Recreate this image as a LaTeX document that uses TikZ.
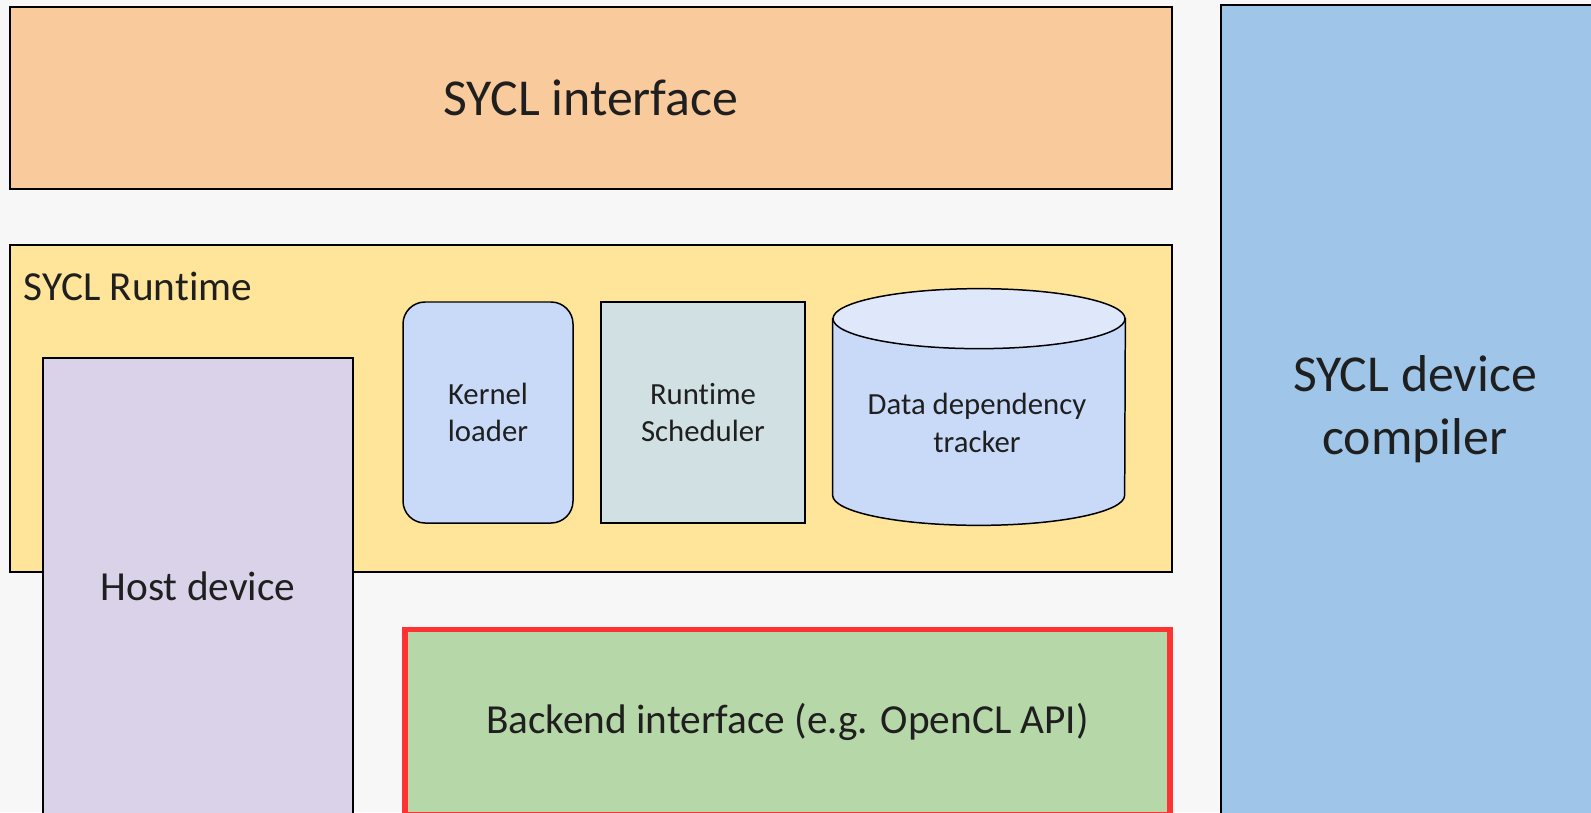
\documentclass[tikz,border=0pt]{standalone}
\usepackage{fontspec}
\setmainfont{Carlito}[Ligatures={NoCommon,NoRequired,NoContextual}]
\usetikzlibrary{positioning,calc}
\definecolor{bggray}{HTML}{F7F7F7}
\definecolor{ifaceorange}{HTML}{F9CB9C}
\definecolor{rtyellow}{HTML}{FFE599}
\definecolor{compblue}{HTML}{9FC5E8}
\definecolor{hostlilac}{HTML}{D9D2E9}
\definecolor{kernblue}{HTML}{C9DAF8}
\definecolor{schedgray}{HTML}{D0E0E3}
\definecolor{captop}{HTML}{DFE8FA}
\definecolor{backgreen}{HTML}{B6D7A8}
\definecolor{alertred}{HTML}{FF3333}
\tikzset{
  % lager
  blk/.style={rectangle,draw=black,line width=1.1pt,inner sep=0pt,text=black!88},
  big/.style={font=\fontsize{29.5}{36}\selectfont,align=center,text=black!88},
  mid/.style={font=\fontsize{23.5}{28}\selectfont},
  % delar i runtime
  part/.style={rectangle,draw=black,line width=0.85pt,inner sep=0pt,text=black!88,
               minimum height=4.42cm,font=\fontsize{17.5}{21.3}\selectfont,align=center},
  cylbody/.style={draw=black,line width=0.85pt,fill=kernblue},
  cyltop/.style={draw=black,line width=0.85pt,fill=captop},
  hot/.style={draw=alertred,line width=2.9pt},
}
\begin{document}
\begin{tikzpicture}
\useasboundingbox (0,0) rectangle (31.82,16.24);
\clip (0,0) rectangle (31.82,16.24);
\fill[bggray] (0,0) rectangle (31.82,16.24);
  \node[blk,big,fill=ifaceorange,minimum width=23.24cm,minimum height=3.64cm]
    (iface) at (11.82,14.28) {SYCL interface};
  \node[blk,fill=compblue,minimum width=7.76cm,minimum height=16.8cm]
    (devc) at (28.30,7.74) {};
  \node[big] (devclabel) at (28.30,8.06) {SYCL device\\compiler};
  \node[blk,fill=rtyellow,minimum width=23.24cm,minimum height=6.54cm]
    (rt) at (11.82,8.07) {};
  \node[mid,text=black!88,anchor=base west,inner sep=0pt]
    (rtlabel) at ($(rt.north west)+(0.29,-1.12)$) {SYCL Runtime};
  \node[blk,mid,fill=hostlilac,minimum width=6.20cm,minimum height=9.12cm]
    (host) at (3.96,4.52) {Host device};
  \node[part,fill=kernblue,rounded corners=0.44cm,minimum width=3.40cm]
    (kern) at (9.76,7.99) {Kernel\\loader};
  \node[part,fill=schedgray,minimum width=4.08cm]
    (sched) at (14.06,7.99) {Runtime\\Scheduler};
  \node[minimum width=5.84cm,minimum height=4.72cm,inner sep=0pt]
    (dep) at (19.58,8.10) {};
  \path[cylbody] ($(dep.north west)+(0,-0.6)$) -- ($(dep.south west)+(0,0.6)$)
    arc[start angle=180,end angle=360,x radius=2.92,y radius=0.6]
    -- ($(dep.north east)+(0,-0.6)$) -- cycle;
  \path[cyltop] ($(dep.north)+(0,-0.6)$) ellipse [x radius=2.92,y radius=0.6];
  \node[part,draw=none,minimum height=0pt] (deplabel) at ($(dep)+(-0.04,-0.32)$)
    {Data dependency\\tracker};
  \node[blk,hot,mid,fill=backgreen,minimum width=15.30cm,minimum height=3.70cm]
    (back) at (15.75,1.80) {Backend interface (e.g. OpenCL API)};
\end{tikzpicture}
\end{document}
